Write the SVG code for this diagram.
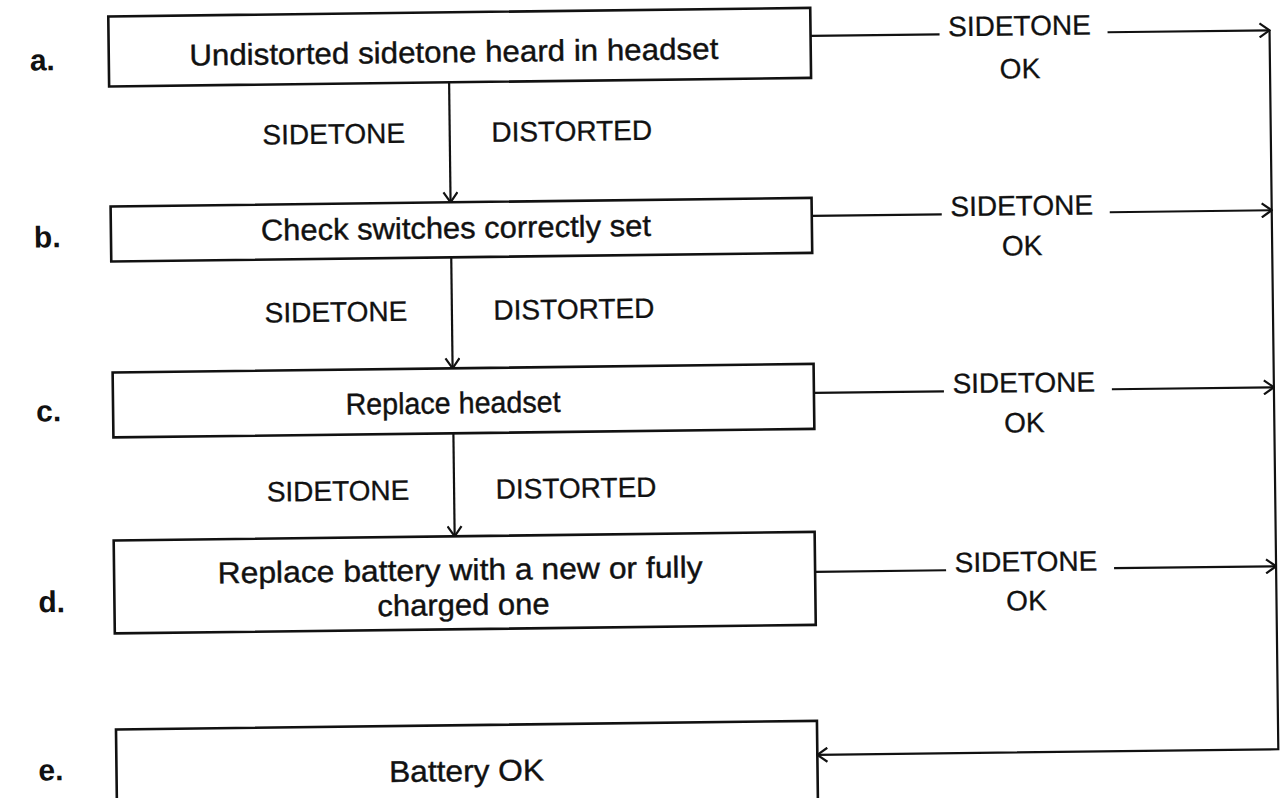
<svg xmlns="http://www.w3.org/2000/svg" width="1282" height="798" viewBox="0 0 1282 798">
<style>
.box{fill:none;stroke:#111;stroke-width:2.6}
.ln{fill:none;stroke:#111;stroke-width:2.2}
.t{font-family:"Liberation Sans",Arial,sans-serif;font-size:30px;fill:#111;stroke:#111;stroke-width:0.4;text-anchor:middle}
.c{font-family:"Liberation Sans",Arial,sans-serif;font-size:28px;fill:#111;stroke:#111;stroke-width:0.3;text-anchor:middle}
.lb{font-family:"Liberation Sans",Arial,sans-serif;font-size:30px;font-weight:bold;fill:#111}
</style>
<defs>
<marker id="arr" viewBox="0 0 12 16" refX="11" refY="8" markerWidth="12" markerHeight="16" markerUnits="userSpaceOnUse" orient="auto">
<path d="M1,1 L11,8 L1,15" fill="none" stroke="#111" stroke-width="2.2"/>
</marker>
</defs>
<rect width="1282" height="798" fill="#fff"/>
<g transform="rotate(-0.7 640 400)">
<g id="labels">
<text class="lb" x="34" y="63">a.</text>
<text class="lb" x="36" y="240">b.</text>
<text class="lb" x="36" y="414">c.</text>
<text class="lb" x="36" y="605">d.</text>
<text class="lb" x="34" y="773">e.</text>
</g>
<g id="node-a">
<rect class="box" x="113" y="10" width="702" height="70"/>
<text class="t" x="458" y="60" textLength="529" lengthAdjust="spacingAndGlyphs">Undistorted sidetone heard in headset</text>
</g>
<g id="node-b">
<rect class="box" x="113" y="200" width="701" height="55"/>
<text class="t" x="458" y="236" textLength="390" lengthAdjust="spacingAndGlyphs">Check switches correctly set</text>
</g>
<g id="node-c">
<rect class="box" x="113" y="366" width="701" height="65"/>
<text class="t" x="453" y="411" textLength="215" lengthAdjust="spacingAndGlyphs">Replace headset</text>
</g>
<g id="node-d">
<rect class="box" x="112" y="534" width="701" height="93"/>
<text class="t" x="458" y="578" textLength="485" lengthAdjust="spacingAndGlyphs">Replace battery with a new or fully</text>
<text class="t" x="461" y="613" textLength="172" lengthAdjust="spacingAndGlyphs">charged one</text>
</g>
<g id="node-e">
<rect class="box" x="112" y="723" width="701" height="90"/>
<text class="t" x="462" y="779" textLength="155" lengthAdjust="spacingAndGlyphs">Battery OK</text>
</g>
<g id="connectors">
<path class="ln" d="M453,80 V200" marker-end="url(#arr)"/>
<path class="ln" d="M453,255 V366" marker-end="url(#arr)"/>
<path class="ln" d="M453,431 V534" marker-end="url(#arr)"/>
<path class="ln" d="M815,38 H944"/>
<path class="ln" d="M1112,38 H1274" marker-end="url(#arr)"/>
<path class="ln" d="M814,218 H944"/>
<path class="ln" d="M1112,218 H1274" marker-end="url(#arr)"/>
<path class="ln" d="M814,395 H944"/>
<path class="ln" d="M1112,395 H1274" marker-end="url(#arr)"/>
<path class="ln" d="M813,574 H944"/>
<path class="ln" d="M1112,574 H1274" marker-end="url(#arr)"/>
<path class="ln" d="M1274,38 V757 H813" marker-end="url(#arr)"/>
</g>
<g id="connector-labels">
<text class="c" x="337" y="140">SIDETONE</text>
<text class="c" x="575" y="140">DISTORTED</text>
<text class="c" x="337" y="318">SIDETONE</text>
<text class="c" x="575" y="318">DISTORTED</text>
<text class="c" x="337" y="497">SIDETONE</text>
<text class="c" x="575" y="497">DISTORTED</text>
<text class="c" x="1024" y="40">SIDETONE</text>
<text class="c" x="1024" y="83">OK</text>
<text class="c" x="1024" y="220">SIDETONE</text>
<text class="c" x="1024" y="260">OK</text>
<text class="c" x="1024" y="397">SIDETONE</text>
<text class="c" x="1024" y="437">OK</text>
<text class="c" x="1024" y="576">SIDETONE</text>
<text class="c" x="1024" y="615">OK</text>
</g>
</g>
</svg>
